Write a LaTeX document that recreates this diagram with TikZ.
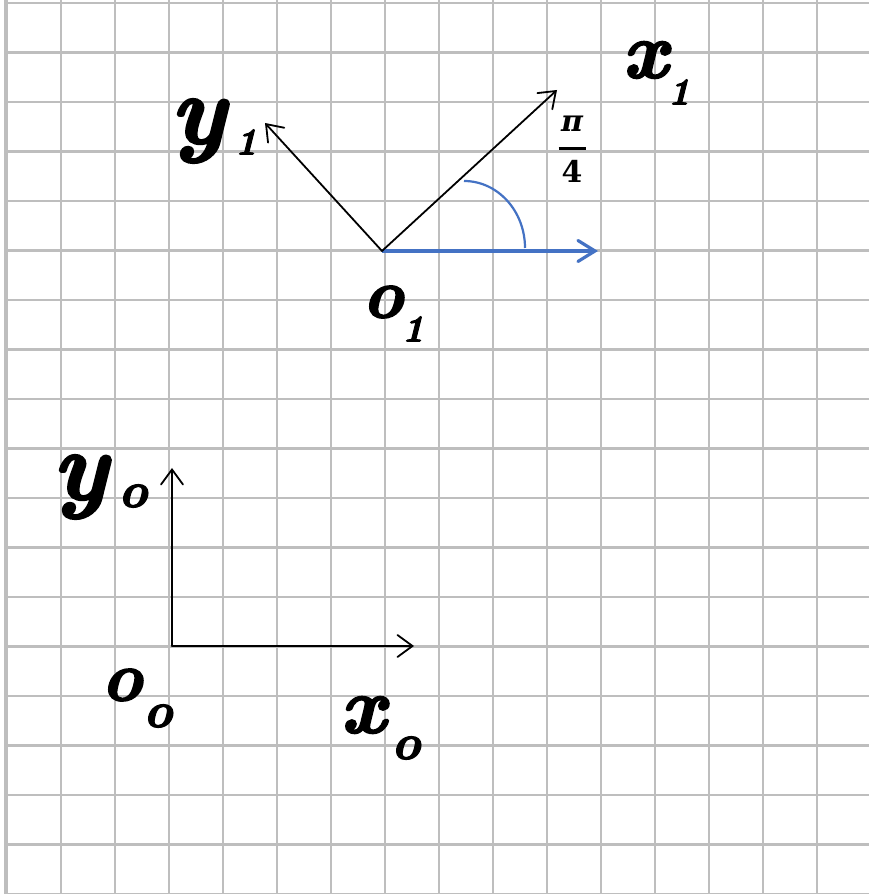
\documentclass[tikz,border=0pt]{standalone}
\usepackage{fontspec}
\usetikzlibrary{arrows.meta}
\definecolor{gridc}{HTML}{BEBEBE}
\definecolor{bluec}{HTML}{4472C4}
\newfontfamily\heavyfont{lmroman10-bolditalic.otf}[FakeBold=2.5]
\newfontfamily\fracfamily{DejaVu Serif}
\newcommand{\yletter}{\fontsize{98}{98}\heavyfont}
\newcommand{\xletter}{\fontsize{80}{80}\heavyfont}
\newcommand{\oletter}{\fontsize{70}{70}\heavyfont}
\newcommand{\subone}{\fontsize{38}{38}\heavyfont}
\newcommand{\subo}{\fontsize{50}{50}\heavyfont}
\newcommand{\fracfont}{\fontsize{30}{30}\fracfamily\bfseries}
\begin{document}
\begin{tikzpicture}[x=1bp,y=1bp,
  gridline/.style={gridc, line width=2.2bp},
  axisarrow/.style={black, line width=1.8bp, line cap=round,
    -{Straight Barb[length=15bp,width=22bp,line width=1.8bp,line cap=round]}},
  bluearrow/.style={bluec, line width=3.2bp,
    -{Straight Barb[length=17bp,width=21bp,line width=3.2bp,line cap=round]}},
  bluearc/.style={bluec, line width=2.2bp},
  lab/.style={inner sep=0pt, text=black},
  frac/.style={inner sep=0pt, text=black, font=\fracfont}]
\useasboundingbox (0,0) rectangle (869,894);
\fill[white] (0,0) rectangle (869,894);
% grid
\foreach \k in {0,...,15}{
  \draw[gridline] ({7+54*\k},0) -- ({7+54*\k},894);
}
\foreach \k in {0,...,18}{
  \draw[gridline] (6,{891-49.5*\k}) -- (869,{891-49.5*\k});
}
\draw[gridc, line width=4bp] (6,0) -- (6,894);
% upper frame
\coordinate (O1) at (382,643);
\coordinate (X1) at (557,804);
\coordinate (Y1) at (265,771);
\coordinate (B1) at (598,643);
\draw[bluearrow] (O1) -- (B1);
\draw[axisarrow] (O1) -- (X1);
\draw[axisarrow] (O1) -- (Y1);
\draw[bluearc] (464,713) arc[start angle=90, end angle=0, x radius=61, y radius=67];
\node[frac] (pi4) at (572,744.5) {\vbox{\offinterlineskip
  \hbox to 27bp{\hss\itshape π\hss}\kern 15bp
  \hbox{\rule{27bp}{3bp}}\kern 11bp
  \hbox to 27bp{\hss 4\hss}}};
% lower frame
\coordinate (O0) at (172,248);
\coordinate (X0) at (414,248);
\coordinate (Y0) at (172,426);
\draw[axisarrow] (O0) -- (X0);
\draw[axisarrow] (O0) -- (Y0);
% labels
\node[lab, font=\yletter] (y1m) at (198,763) {y};
\node[lab, font=\subone] (y1s) at (246,752) {1};
\node[lab, font=\xletter] (x1m) at (645,834) {x};
\node[lab, font=\subone] (x1s) at (679,802) {1};
\node[lab, font=\oletter] (o1m) at (383,592) {o};
\node[lab, font=\subone] (o1s) at (413,565) {1};
\node[lab, font=\yletter] (y0m) at (80,407) {y};
\node[lab, font=\subo] (y0s) at (133,398) {o};
\node[lab, font=\oletter] (o0m) at (122,209) {o};
\node[lab, font=\subo] (o0s) at (158,178) {o};
\node[lab, font=\xletter] (x0m) at (363,179) {x};
\node[lab, font=\subo] (x0s) at (406,146) {o};
\end{tikzpicture}
\end{document}
